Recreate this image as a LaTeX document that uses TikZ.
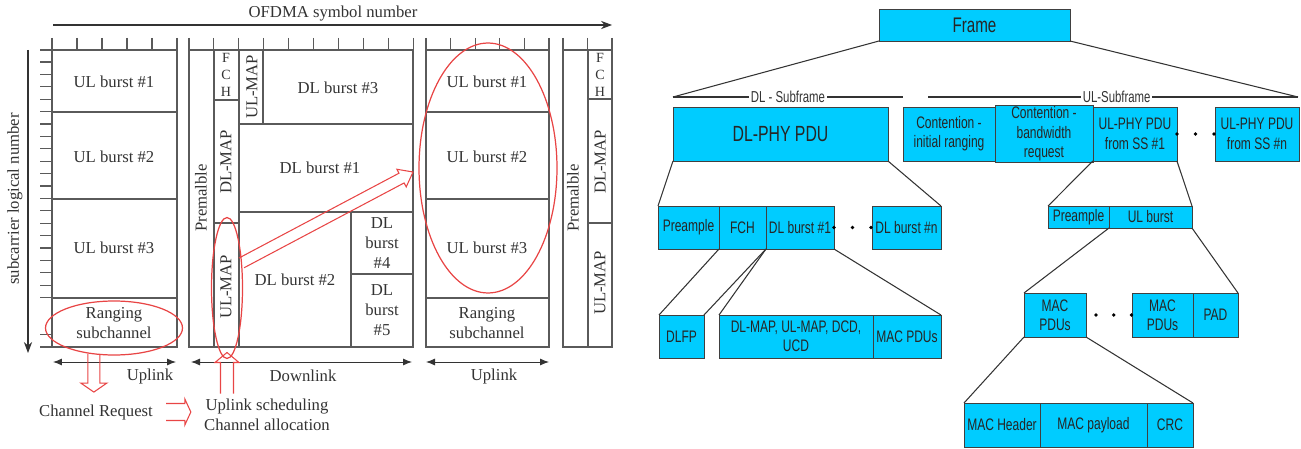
\documentclass[tikz,border=0pt]{standalone}
\usepackage{fontspec}
\setmainfont{Liberation Serif}
\newfontfamily\boxfont[FakeStretch=0.72]{Liberation Sans}
\usepackage{tikz}
\usetikzlibrary{positioning,arrows.meta,shapes.geometric,calc}
\definecolor{ccyan}{HTML}{00CCFF}
\definecolor{cred}{HTML}{E84545}
\definecolor{cline}{HTML}{5A5A5A}
\definecolor{ctext}{HTML}{333333}
\tikzset{
 pdu/.style={rectangle, draw=black!75, fill=ccyan, line width=0.5pt, inner sep=1pt,
 outer sep=0pt, align=center, text=black!85, font=\boxfont\fontsize{9.5}{11}\selectfont},
 frm/.style={draw=cline, line width=0.6pt},
 lbl/.style={inner sep=0pt, align=center, text=ctext, font=\fontsize{9.5}{11.5}\selectfont},
 vlbl/.style={lbl, rotate=90},
 smlbl/.style={lbl, font=\fontsize{8}{9.5}\selectfont},
 redell/.style={ellipse, draw=cred, line width=0.7pt, inner sep=0pt, outer sep=0pt},
 redl/.style={draw=cred, line width=0.6pt, line join=miter},
 spanarr/.style={{Latex[length=1.8mm,width=1.4mm]}-{Latex[length=1.8mm,width=1.4mm]}, draw=black!80, line width=0.5pt},
 axarr/.style={-{Stealth[length=2.2mm]}, draw=black!80, line width=0.6pt},
 brch/.style={draw=black!80, line width=0.6pt},
 dotl/.style={draw=black, line width=2.2pt, line cap=round, dash pattern=on 0pt off 0.37cm},
 sublbl/.style={fill=white, inner sep=1pt, text=black!80, font=\boxfont\fontsize{9}{10}\selectfont},
}
% open red arrow: tail, tip, shaft half width, head half width, head length
\newcommand{\hollowarrow}[5]{%
 \coordinate (hwA) at (#1);
 \coordinate (hwT) at (#2);
 \coordinate (hwB) at ($(hwT)!#5!(hwA)$);
 \draw[redl] ($(hwA)!#3!90:(hwT)$) -- ($(hwB)!#3!-90:(hwA)$) -- ($(hwB)!#4!-90:(hwA)$)
 -- (hwT) -- ($(hwB)!#4!90:(hwA)$) -- ($(hwB)!#3!90:(hwA)$) -- ($(hwA)!#3!-90:(hwT)$);}

\begin{document}
\begin{tikzpicture}[x=0.02cm, y=-0.02cm]
 \useasboundingbox (0,0) rectangle (1301,449);

 % ---- OFDMA frame (left) ----
 \draw[axarr] (53,25) -- (612,25);
 \node[lbl] (ofdma) at (333,14) {OFDMA symbol number};
 \draw[axarr] (28,50) -- (28,353);
 \node[vlbl] (subc) at (15,199) {subcarrier logical number};

 % ticks
 \foreach \i in {0,...,5} \draw[frm] ({52+25*\i},38) -- ++(0,12);
 \foreach \i in {0,...,9} \draw[frm] ({189+24.9*\i},38) -- ++(0,12);
 \foreach \i in {0,...,5} \draw[frm] ({426+24.6*\i},38) -- ++(0,12);
 \foreach \x in {563,587.5,612} \draw[frm] (\x,38) -- ++(0,12);
 \foreach \k in {0,...,19,22} \draw[frm] (40,{62+12.4*\k}) -- ++(12,0);

 % uplink column
 \draw[frm] (40,50) -- (177,50) -- (177,347) -- (40,347);
 \draw[frm] (52,50) -- (52,347);
 \foreach \y in {112,199,298} \draw[frm] (52,\y) -- (177,\y);
 % downlink column
 \draw[frm] (189,50) rectangle (413,347);
 \draw[frm] (214,50) -- (214,347) (239,50) -- (239,347) (263,50) -- (263,124);
 \draw[frm] (214,100) -- (239,100) (214,223) -- (239,223) (239,124) -- (413,124)
 (239,212) -- (413,212) (351,212) -- (351,347) (351,274) -- (413,274);
 % next uplink column
 \draw[frm] (426,50) rectangle (549,347);
 \foreach \y in {112,199,298} \draw[frm] (426,\y) -- (549,\y);
 % next downlink start
 \draw[frm] (563,50) rectangle (612,347) (588,50) -- (588,347)
 (588,99) -- (612,99) (588,223) -- (612,223);

 \node[lbl] (ulbA1) at (114,82) {UL burst \#1};
 \node[lbl] (ulbA2) at (114,157) {UL burst \#2};
 \node[lbl] (ulbA3) at (114,248) {UL burst \#3};
 \node[lbl] (rngA) at (114,323) {Ranging\\subchannel};

 \node[vlbl] (preB) at (201,198) {Premalble};
 \node[smlbl] (fchB) at (226,75) {F\\C\\H};
 \node[vlbl] (dlmapB) at (226,162) {DL-MAP};
 \node[vlbl] (ulmapB) at (226,287) {UL-MAP};
 \node[vlbl] (ulmapTopB) at (252,87) {UL-MAP};
 \node[lbl] (dlb3) at (338,88) {DL burst \#3};
 \node[lbl] (dlb1) at (320,168) {DL burst \#1};
 \node[lbl] (dlb2) at (295,280) {DL burst \#2};
 \node[lbl] (dlb4) at (382,243) {DL\\burst\\\#4};
 \node[lbl] (dlb5) at (382,310) {DL\\burst\\\#5};

 \node[lbl] (ulbC1) at (487,82) {UL burst \#1};
 \node[lbl] (ulbC2) at (487,157) {UL burst \#2};
 \node[lbl] (ulbC3) at (487,248) {UL burst \#3};
 \node[lbl] (rngC) at (487,323) {Ranging\\subchannel};

 \node[vlbl] (preD) at (573,198) {Premalble};
 \node[smlbl] (fchD) at (600,75) {F\\C\\H};
 \node[vlbl] (dlmapD) at (600,162) {DL-MAP};
 \node[vlbl] (ulmapD) at (600,283) {UL-MAP};

 \draw[spanarr] (53,362) -- (176,362);
 \node[lbl] (upA) at (150,376) {Uplink};
 \draw[spanarr] (191,362) -- (412,362);
 \node[lbl] (down) at (303,376) {Downlink};
 \draw[spanarr] (426,362) -- (549,362);
 \node[lbl] (upC) at (494,376) {Uplink};

 \node[lbl] (chanReq) at (96,412) {Channel Request};
 \node[lbl] (upSched) at (267,415) {Uplink scheduling\\Channel allocation};

 % red marks
 \node[redell, minimum width=2.74cm, minimum height=1.08cm] (rangEll) at (114,328) {};
 \node[redell, minimum width=0.62cm, minimum height=2.82cm] (ulmapEll) at (227,288) {};
 \node[redell, minimum width=2.76cm, minimum height=5.0cm] (bigEll) at (488,168) {};

 \hollowarrow{rangEll.232}{$(rangEll.232 |- chanReq.north)+(0,-12)$}{0.12cm}{0.26cm}{0.18cm}
 \hollowarrow{$(chanReq.east)+(13,0)$}{$(upSched.west |- chanReq.east)+(-13,0)$}{0.17cm}{0.26cm}{0.12cm}
 \hollowarrow{$(ulmapEll.south |- upSched.north)+(0,-5)$}{$(ulmapEll.south)+(0,-6)$}{0.13cm}{0.24cm}{0.2cm}
 \hollowarrow{ulmapEll.60}{$(bigEll.west)+(-6,4)$}{0.11cm}{0.2cm}{0.26cm}

 % ---- frame structure tree (right) ----
 \node[pdu, minimum width=3.82cm, minimum height=0.64cm, anchor=north west,
 font=\boxfont\fontsize{12}{14}\selectfont] (frame) at (879,9) {Frame};
 \coordinate (dlL) at (673,97); \coordinate (dlR) at (903,97);
 \coordinate (ulL) at (928,97); \coordinate (ulR) at (1298,97);
 \draw[brch] (frame.south west) -- (dlL);
 \draw[brch] (frame.south east) -- (ulR);
 \draw[brch] (dlL) -- node[sublbl] (dlsub) {DL - Subframe} (dlR);
 \draw[brch] (ulL) -- node[sublbl, pos=0.51] (ulsub) {UL-Subframe} (ulR);

 \node[pdu, minimum width=4.30cm, minimum height=1.08cm, anchor=north west,
 font=\boxfont\fontsize{12.5}{14}\selectfont] (dlphy) at (673,107) {DL-PHY PDU};
 \node[pdu, minimum width=1.84cm, minimum height=1.08cm, anchor=north west] (cir) at (903,107) {Contention -\\initial ranging};
 \node[pdu, minimum width=1.96cm, minimum height=1.08cm, right=0pt of cir] (cbr) {Contention -\\bandwidth\\request};
 \node[pdu, minimum width=1.68cm, minimum height=1.08cm, right=0pt of cbr] (ulphy1) {UL-PHY PDU\\from SS \#1};
 \node[pdu, minimum width=1.68cm, minimum height=1.08cm, anchor=north west] (ulphyn) at (1215,107) {UL-PHY PDU\\from SS \#n};
 \draw[dotl] (ulphy1.east) -- (ulphyn.west);

 % DL-PHY PDU
 \node[pdu, minimum width=1.22cm, minimum height=0.86cm, anchor=north west] (dpre) at (658,206) {Preample};
 \node[pdu, minimum width=0.94cm, minimum height=0.86cm, right=0pt of dpre] (dfch) {FCH};
 \node[pdu, minimum width=1.36cm, minimum height=0.86cm, right=0pt of dfch] (dbu1) {DL burst \#1};
 \node[pdu, minimum width=1.38cm, minimum height=0.86cm, anchor=north west] (dbun) at (872,206) {DL burst \#n};
 \draw[dotl] (dbu1.east) -- (dbun.west);
 \draw[brch] (dlphy.south west) -- (dpre.north west);
 \draw[brch] (dlphy.south east) -- (dbun.north east);

 \node[pdu, minimum width=0.90cm, minimum height=0.86cm, anchor=north west] (dlfp) at (659,315) {DLFP};
 \node[pdu, minimum width=3.08cm, minimum height=0.86cm, anchor=north west] (dmaps) at (719,315) {DL-MAP, UL-MAP, DCD,\\UCD};
 \node[pdu, minimum width=1.36cm, minimum height=0.86cm, right=0pt of dmaps] (dmac) {MAC PDUs};
 \draw[brch] (dfch.south west) -- (dlfp.north west);
 \draw[brch] (dfch.south east) -- (dlfp.north east);
 \draw[brch] (dbu1.south west) -- (dmaps.north west);
 \draw[brch] (dbu1.south east) -- (dmac.north east);

 % UL-PHY PDU
 \node[pdu, minimum width=1.22cm, minimum height=0.44cm, anchor=north west] (upre) at (1048,206) {Preample};
 \node[pdu, minimum width=1.66cm, minimum height=0.44cm, right=0pt of upre] (uburst) {UL burst};
 \draw[brch] (ulphy1.south west) -- (upre.north west);
 \draw[brch] (ulphy1.south east) -- (uburst.north east);

 \node[pdu, minimum width=1.24cm, minimum height=0.88cm, anchor=north west] (mpdu1) at (1024,293) {MAC\\PDUs};
 \node[pdu, minimum width=1.22cm, minimum height=0.88cm, anchor=north west] (mpdu2) at (1132,293) {MAC\\PDUs};
 \node[pdu, minimum width=0.90cm, minimum height=0.88cm, right=0pt of mpdu2] (pad) {PAD};
 \draw[dotl, dash pattern=on 0pt off 0.355cm] ($(mpdu1.east)+(10,0)$) -- (mpdu2.west);
 \draw[brch] (uburst.south west) -- (mpdu1.north west);
 \draw[brch] (uburst.south east) -- (pad.north east);

 \node[pdu, minimum width=1.52cm, minimum height=0.88cm, anchor=north west] (mhdr) at (964,403) {MAC Header};
 \node[pdu, minimum width=2.14cm, minimum height=0.88cm, right=0pt of mhdr] (mpay) {MAC payload};
 \node[pdu, minimum width=0.92cm, minimum height=0.88cm, right=0pt of mpay] (crc) {CRC};
 \draw[brch] (mpdu1.south west) -- (mhdr.north west);
 \draw[brch] (mpdu1.south east) -- (crc.north east);
\end{tikzpicture}
\end{document}
